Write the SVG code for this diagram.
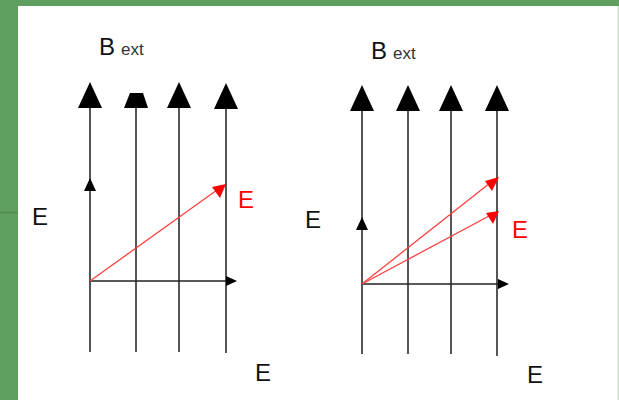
<svg xmlns="http://www.w3.org/2000/svg" width="619" height="400" viewBox="0 0 619 400">
<style>
.ln{stroke:#555;stroke-width:2;fill:none}
.ax{stroke:#222;stroke-width:1.5;fill:none}
.rd{stroke:#ff4040;stroke-width:1.3;fill:none}
.hd{fill:#000}
.rh{fill:#ff0000}
.t{font-family:"Liberation Sans",Arial,sans-serif;fill:#111}
.big{font-size:24px}
.sub{font-size:17px;fill:#333}
.red{fill:#ff0000}
</style>
<rect x="0" y="0" width="619" height="400" fill="#5f9f5f"/>
<rect x="18" y="6" width="600" height="394" fill="#ffffff"/>
<rect x="617.5" y="6" width="1.5" height="394" fill="#c8e0c8"/>
<line x1="0" y1="212.5" x2="18" y2="212.5" stroke="#4f8a4f" stroke-width="1.5"/>

<g id="left-panel">
  <g id="left-field-lines">
    <line class="ln" x1="90" y1="105" x2="90" y2="352"/>
    <line class="ln" x1="136" y1="105" x2="136" y2="352"/>
    <line class="ln" x1="179" y1="105" x2="179" y2="352"/>
    <line class="ln" x1="226" y1="105" x2="226" y2="353"/>
    <polygon class="hd" points="90,82 102,108 78,108"/>
    <polygon class="hd" points="130,93 143,93 148,108 124,108"/>
    <polygon class="hd" points="179,82 191,108 167,108"/>
    <polygon class="hd" points="226,83 238,109 214,109"/>
  </g>
  <g id="left-axes">
    <line class="ax" x1="90" y1="281" x2="228" y2="281"/>
    <polygon class="hd" points="237,281 226,276 226,286"/>
    <polygon class="hd" points="90,178 96,191 84,191"/>
  </g>
  <g id="left-E-vector">
    <line class="rd" x1="90" y1="281" x2="217" y2="190"/>
    <polygon class="rh" points="226,184 220,198 212,187"/>
  </g>
  <text class="t big" x="99" y="55">B</text>
  <text class="t sub" x="121" y="55">ext</text>
  <text class="t big" x="32" y="225">E</text>
  <text class="t big red" x="238" y="208">E</text>
  <text class="t big" x="255" y="381">E</text>
</g>

<g id="right-panel">
  <g id="right-field-lines">
    <line class="ln" x1="362" y1="108" x2="362" y2="354"/>
    <line class="ln" x1="408" y1="108" x2="408" y2="354"/>
    <line class="ln" x1="451" y1="108" x2="451" y2="354"/>
    <line class="ln" x1="497" y1="108" x2="497" y2="356"/>
    <polygon class="hd" points="362,85 374,111 350,111"/>
    <polygon class="hd" points="408,85 420,111 396,111"/>
    <polygon class="hd" points="451,85 463,111 439,111"/>
    <polygon class="hd" points="497,85 509,111 485,111"/>
  </g>
  <g id="right-axes">
    <line class="ax" x1="362" y1="284" x2="500" y2="284"/>
    <polygon class="hd" points="509,284 498,279 498,289"/>
    <polygon class="hd" points="362,217 368,230 356,230"/>
  </g>
  <g id="right-E-vectors">
    <line class="rd" x1="362" y1="284" x2="490" y2="183"/>
    <polygon class="rh" points="499,177 492,191 485,181"/>
    <line class="rd" x1="362" y1="284" x2="489" y2="216"/>
    <polygon class="rh" points="499,211 493,224 486,213"/>
  </g>
  <text class="t big" x="371" y="59">B</text>
  <text class="t sub" x="393" y="59">ext</text>
  <text class="t big" x="305" y="228">E</text>
  <text class="t big red" x="512" y="238">E</text>
  <text class="t big" x="527" y="383">E</text>
</g>
</svg>
